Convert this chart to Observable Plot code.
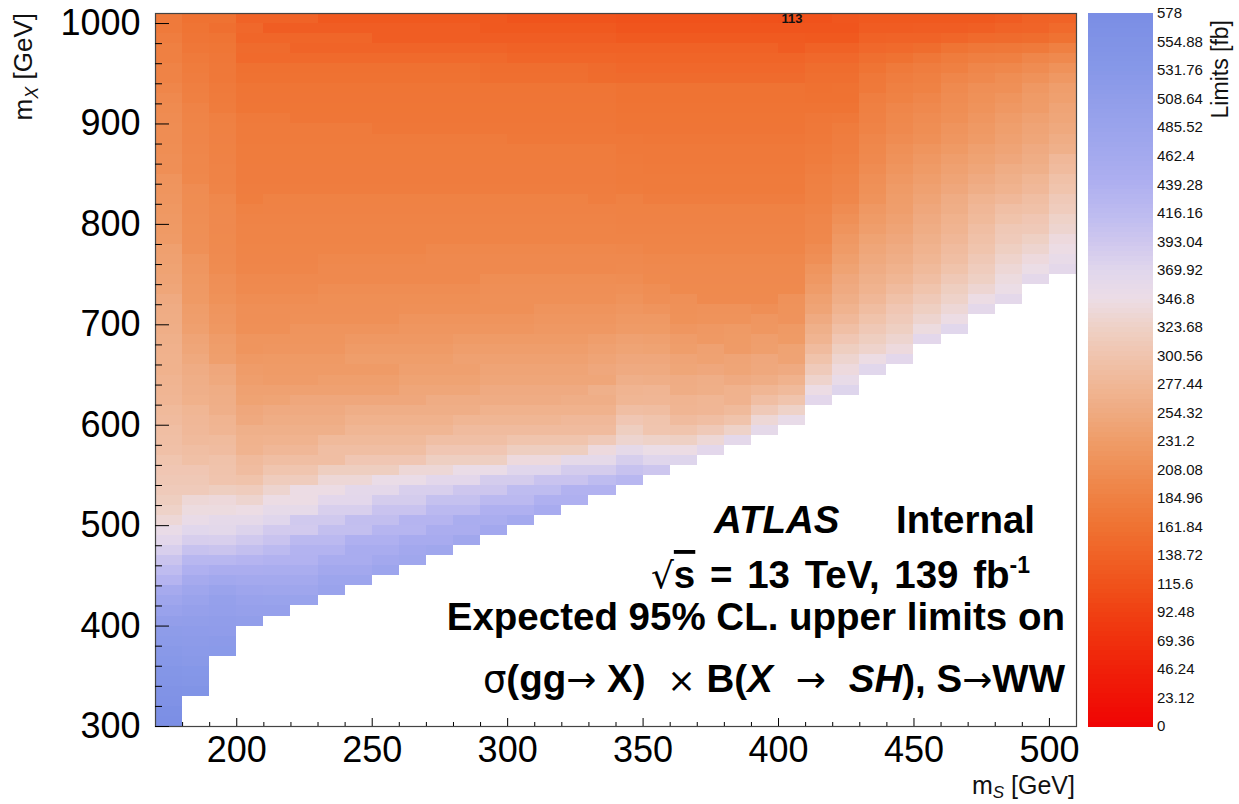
<!DOCTYPE html>
<html><head><meta charset="utf-8">
<script src="https://cdn.jsdelivr.net/npm/d3@7"></script>
<script src="https://cdn.jsdelivr.net/npm/@observablehq/plot@0.6"></script>
<style>
html,body{margin:0;padding:0;background:#fff;overflow:hidden}
#chart{width:1239px;height:804px}
</style></head><body><div id="chart"></div>
<script>
// ---- data ----
const mS = [170,180,190,200,210,220,230,240,250,260,270,280,290,300,310,320,330,340,350,360,370,380,390,400,410,420,430,440,450,460,470,480,490,500];
const mXmin = [300,330,370,400,410,420,430,440,450,460,470,480,490,500,510,520,530,540,550,560,570,580,590,600,620,630,650,660,680,690,710,720,740,750];
const mX = [1000,990,980,970,960,950,940,930,920,910,900,890,880,870,860,850,840,830,820,810,800,790,780,770,760,750,740,730,720,710,700,690,680,670,660,650,640,630,620,610,600,590,580,570,560,550,540,530,520,510,500,490,480,470,460,450,440,430,420,410,400,390,380,370,360,350,340,330,320,310,300];
// expected limits [fb], one row per mX (top to bottom), columns follow mS from 170 up to the last allowed mS
const limits = [
[175,162,162,140,140,140,125,125,125,125,125,125,125,118,118,118,118,115,115,115,115,115,114,113,115,122,125,125,125,125,125,130,138,140],
[175,165,158,148,132,132,132,132,132,132,132,132,125,125,125,125,125,120,120,120,120,120,120,120,120,120,130,130,132,132,135,140,142,150],
[180,167,165,145,145,145,145,145,132,132,132,132,132,132,132,132,132,127,127,127,127,127,127,127,125,125,138,140,140,145,150,152,155,162],
[185,170,168,152,152,142,142,142,142,142,142,142,142,138,138,138,138,138,138,138,138,138,138,130,138,138,148,150,155,165,170,172,175,185],
[185,175,170,150,150,150,150,150,150,150,150,150,150,145,145,145,145,143,143,143,143,143,143,143,148,148,158,162,170,178,183,185,195,200],
[190,178,172,160,160,160,160,160,160,160,160,160,156,156,156,156,152,148,148,148,148,148,148,148,155,155,165,175,180,185,195,198,205,215],
[190,180,172,162,162,162,162,162,162,162,162,162,158,158,158,158,153,152,152,152,152,152,152,152,158,158,172,180,185,195,200,208,215,225],
[195,183,175,166,166,166,166,166,166,166,166,166,166,166,166,166,166,163,163,163,163,163,163,163,160,162,174,185,188,202,210,212,225,235],
[200,185,176,167,167,167,167,167,167,167,167,167,167,167,167,167,167,164,164,164,164,164,164,164,162,162,182,188,195,205,213,220,230,238],
[203,190,178,168,168,168,168,168,168,168,168,168,168,168,168,168,168,165,165,165,165,165,165,165,165,165,185,195,200,208,216,225,232,245],
[205,192,185,175,175,169,169,169,169,169,169,169,169,169,169,169,169,166,166,166,166,166,166,166,170,172,187,198,205,212,222,232,240,248],
[207,193,186,176,176,176,176,176,170,170,170,170,170,170,170,170,170,167,167,167,167,167,167,167,172,178,190,200,208,218,226,236,245,252],
[207,194,187,177,177,177,177,177,177,177,177,177,177,172,172,172,172,172,170,170,170,170,170,170,174,180,195,205,212,222,230,240,248,260],
[208,195,188,178,178,178,178,178,178,178,178,178,178,178,178,178,178,174,173,173,173,173,173,173,176,182,198,212,220,228,238,245,255,265],
[210,196,189,178,178,178,178,178,178,178,178,178,178,178,178,178,178,175,174,174,174,174,174,174,178,185,200,215,225,235,242,250,260,280],
[210,197,190,179,179,179,179,179,179,179,179,179,179,179,179,179,179,176,175,175,175,175,175,175,182,188,205,220,230,240,248,260,265,285],
[218,198,190,179,179,179,179,179,179,179,179,179,179,179,179,179,179,177,176,176,176,176,176,176,185,192,210,225,235,245,255,265,275,295],
[220,205,192,180,180,180,180,180,180,180,180,180,180,180,180,180,180,178,177,177,177,177,177,177,186,194,213,230,240,250,262,270,280,300],
[222,206,198,181,188,188,188,188,188,188,188,188,188,188,188,188,182,186,180,180,180,180,180,180,188,196,216,233,245,258,272,280,290,310],
[224,207,199,188,189,189,189,189,189,189,189,189,189,189,189,189,189,188,188,188,188,188,188,188,192,205,225,235,250,262,278,292,295,315],
[226,208,200,190,190,190,190,190,190,190,190,190,190,190,190,190,190,189,189,189,189,189,189,189,195,212,230,240,255,268,282,298,305,325],
[228,209,200,191,191,191,191,191,191,191,191,191,191,191,191,191,191,190,190,190,190,190,190,190,197,218,235,245,260,272,290,308,310,330],
[230,210,201,192,192,192,192,192,192,192,192,192,192,192,192,192,192,191,191,191,191,191,191,191,198,225,242,250,265,278,295,312,322,340],
[238,212,202,193,193,193,193,193,193,193,198,198,198,198,198,198,198,196,193,193,193,193,193,193,205,230,248,256,270,285,300,320,330,345],
[240,220,203,194,194,194,198,198,198,198,200,200,200,200,200,200,200,200,198,198,198,198,198,198,210,236,252,262,275,290,308,328,340,355],
[242,222,204,195,195,195,200,200,200,200,200,200,200,200,200,200,200,202,200,199,199,199,199,199,220,242,258,268,282,298,315,335,348,362],
[245,224,210,200,200,200,200,200,200,200,200,200,208,208,208,208,208,207,201,200,200,200,200,200,225,250,265,275,290,308,322,342,362],
[248,226,212,202,202,202,207,207,207,207,207,207,210,210,210,210,210,212,208,201,201,201,201,201,232,255,270,285,300,318,332,348],
[255,228,214,207,207,207,209,209,209,209,209,209,212,212,212,212,212,216,210,212,202,202,202,215,240,262,278,295,310,326,345,363],
[258,233,220,210,210,210,210,210,210,212,212,212,212,212,218,218,218,222,218,213,215,215,210,216,245,270,288,305,320,335,362],
[260,235,222,210,210,212,212,212,212,218,218,218,218,218,222,222,222,226,226,214,216,216,222,217,255,280,298,312,330,345],
[262,238,224,212,212,218,218,218,218,222,222,222,222,222,225,225,225,230,229,222,225,228,223,228,265,292,308,320,342,368],
[265,245,232,220,220,220,220,225,225,225,225,230,230,230,230,230,235,240,238,232,226,229,235,229,272,305,318,330,365],
[267,248,234,220,222,222,222,230,230,230,230,235,235,235,235,235,240,244,242,234,240,230,236,242,285,318,328,340],
[268,252,236,226,228,228,228,234,234,234,234,240,240,240,240,240,245,250,250,245,241,245,250,243,298,330,345,365],
[268,258,250,232,230,230,230,230,230,238,238,238,245,245,245,245,250,255,254,247,250,246,251,255,312,340,368],
[272,262,252,235,232,232,236,236,236,242,242,242,248,248,248,248,248,264,262,258,262,255,260,268,328,355],
[274,264,260,240,240,240,240,240,240,248,248,248,255,255,255,255,265,272,274,260,263,268,275,282,345,372],
[276,266,262,242,244,250,250,250,250,250,258,258,258,258,258,262,262,275,276,272,275,269,290,300,365],
[282,275,264,250,255,255,255,262,262,262,262,262,268,268,268,268,268,290,288,274,276,282,310,325],
[285,278,272,253,260,260,260,268,268,268,268,275,275,275,275,280,280,305,300,285,290,298,335,355],
[290,280,274,265,265,265,265,275,275,275,275,285,285,285,285,285,285,318,302,300,310,325,360],
[292,283,284,268,270,270,282,282,282,282,292,292,292,300,300,300,310,330,325,322,335,362],
[294,290,287,270,278,278,290,290,290,290,305,305,305,318,318,318,340,360,348,345,365],
[302,293,297,283,290,290,290,305,305,305,320,320,320,340,340,360,360,383,370,372],
[305,305,299,287,302,302,318,318,318,335,335,350,350,370,370,385,385,402,395],
[308,308,301,298,315,315,335,335,350,350,365,365,385,385,400,400,415,425],
[312,312,318,315,330,345,345,362,362,380,380,395,395,415,415,435,435],
[318,335,338,330,345,345,365,365,385,385,405,405,420,420,440,440],
[325,342,342,345,358,358,380,380,400,400,420,420,440,440,455],
[335,352,360,360,370,390,390,410,410,430,430,450,450,462],
[352,368,364,375,388,388,408,408,428,428,448,448,465],
[365,382,380,390,400,420,420,440,440,455,455,470],
[380,403,398,408,418,432,432,452,452,465,472],
[398,424,425,430,435,435,452,452,465,472],
[414,440,448,448,450,450,465,465,478],
[430,458,468,463,462,462,478,478],
[458,474,485,477,474,474,485],
[473,486,498,488,487,487],
[488,497,501,497,497],
[503,505,509,505],
[515,513,512],
[520,517,521],
[528,523,524],
[532,527],
[542,537],
[546,542],
[553,550],
[557],
[568],
[572]
];
const barTicks = [0,23.12,46.24,69.36,92.48,115.6,138.72,161.84,184.96,208.08,231.2,254.32,277.44,300.56,323.68,346.8,369.92,393.04,416.16,439.28,462.4,485.52,508.64,531.76,554.88,578];
const barColors = ["#f00404","#f01206","#f02009","#f0300d","#f04012","#f0521b","#f06226","#ef7232","#ef8042","#ef8e54","#ef9c68","#efaa80","#f0b796","#f0c4ae","#eed1c6","#ecdde6","#e0d6ec","#cec7ee","#bdbbf0","#afb0f0","#a4a9ee","#9aa3ec","#919dea","#8798e8","#8093e6","#7b8de5"];
const xMajor = [200,250,300,350,400,450,500];
const xMinor = [180,190,210,220,230,240,260,270,280,290,310,320,330,340,360,370,380,390,410,420,430,440,460,470,480,490];
const yMajor = [300,400,500,600,700,800,900,1000];
const yMinor = [320,340,360,380,420,440,460,480,520,540,560,580,620,640,660,680,720,740,760,780,820,840,860,880,920,940,960,980];
const binW = 10, binH = 10;
const FONT = "'Liberation Sans', Arial, Helvetica, sans-serif";
const SYM = "'DejaVu Sans', 'Liberation Sans', sans-serif";

// ---- checks & table ----
limits.forEach((row, i) => {
  const n = mS.filter((s, j) => mX[i] >= mXmin[j]).length;
  if (row.length !== n) throw new Error(`row mX=${mX[i]} has ${row.length} values, expected ${n}`);
});
const cells = [];
limits.forEach((row, i) => row.forEach((v, j) => cells.push({s: mS[j], x: mX[i], v})));
const minCell = cells.reduce((a, b) => (b.v < a.v ? b : a));
const zMax = barTicks[barTicks.length - 1];

const plot = Plot.plot({
  width: 1239, height: 804,
  marginLeft: 155, marginRight: 163, marginTop: 13, marginBottom: 78,
  style: {fontFamily: FONT, background: "#fff", color: "#000"},
  x: {domain: [170, 510], label: null},
  y: {domain: [300, 1010], label: null},
  color: {type: "linear", domain: barTicks, range: barColors, interpolate: "rgb", clamp: true},
  marks: [
    Plot.rect(cells, {x1: "s", x2: d => d.s + binW, y1: "x", y2: d => d.x + binH, fill: "v", shapeRendering: "crispEdges"}),
    Plot.text([minCell], {x: d => d.s + binW / 2, y: d => d.x + binH / 2, text: d => String(d.v), fontSize: 13, fontWeight: "bold", fill: "#111"}),
    Plot.frame({stroke: "#444", strokeWidth: 1.2}),
    Plot.axisX(xMinor, {anchor: "bottom", tickSize: -4, tickFormat: () => ""}),
    Plot.axisX(xMajor, {anchor: "bottom", tickSize: -8, tickPadding: 18, fontSize: 36, tickFormat: d => String(d)}),
    Plot.axisY(yMinor, {anchor: "left", tickSize: -7, tickFormat: () => ""}),
    Plot.axisY(yMajor, {anchor: "left", tickSize: -14, tickPadding: 29, fontSize: 36, tickFormat: d => String(d)})
  ]
});
document.getElementById("chart").appendChild(plot);

const svg = d3.select(plot);
const colorOf = plot.scale("color");

// ---- colour bar ----
const cbX = 1088, cbW = 65, cbTop = 13, cbBot = 726;
const cbY = d3.scaleLinear().domain([0, zMax]).range([cbBot, cbTop]);
const nBands = 150;
const cb = svg.append("g");
for (let k = 0; k < nBands; k++) {
  const v0 = zMax * k / nBands, v1 = zMax * (k + 1) / nBands;
  cb.append("rect").attr("x", cbX).attr("width", cbW)
    .attr("y", cbY(v1)).attr("height", cbY(v0) - cbY(v1) + 0.5)
    .attr("fill", colorOf.apply((v0 + v1) / 2)).attr("shape-rendering", "crispEdges");
}
barTicks.forEach(v => {
  svg.append("text").attr("x", 1157).attr("y", cbY(v)).attr("dy", "0.36em").attr("text-anchor", "start")
    .attr("font-family", FONT).attr("font-size", 15).attr("fill", "#111").text(String(v));
});
svg.append("text").attr("transform", "translate(1228,20) rotate(-90)").attr("text-anchor", "end")
  .attr("font-family", FONT).attr("font-size", 23).attr("fill", "#111").text("Limits [fb]");

// ---- axis titles ----
const yt = svg.append("text").attr("transform", "translate(32,13) rotate(-90)").attr("text-anchor", "end")
  .attr("font-family", FONT).attr("font-size", 26).attr("fill", "#111");
yt.append("tspan").text("m");
yt.append("tspan").attr("font-size", 18).attr("font-style", "italic").attr("dy", 6).text("X");
yt.append("tspan").attr("dy", -6).text(" [GeV]");

const xt = svg.append("text").attr("x", 1075).attr("y", 794).attr("text-anchor", "end")
  .attr("font-family", FONT).attr("font-size", 25).attr("fill", "#111");
xt.append("tspan").text("m");
xt.append("tspan").attr("font-size", 17).attr("font-style", "italic").attr("dy", 4).text("S");
xt.append("tspan").attr("dy", -4).text(" [GeV]");

// ---- ATLAS label block ----
function line(x, y, anchor, parts, size = 38.5, extra = {}) {
  const t = svg.append("text").attr("x", x).attr("y", y).attr("text-anchor", anchor)
    .attr("font-family", FONT).attr("font-size", size).attr("fill", "#000").style("white-space", "pre");
  if (extra.wordSpacing) t.attr("word-spacing", extra.wordSpacing);
  for (const p of parts) {
    const s = t.append("tspan").text(p.t).attr("font-weight", p.b === false ? "normal" : "bold");
    if (p.i) s.attr("font-style", "italic");
    if (p.f) s.attr("font-family", p.f);
    if (p.fs) s.attr("font-size", p.fs);
    if (p.dy) s.attr("dy", p.dy);
    if (p.o) s.attr("text-decoration", "overline");
  }
  return t;
}
line(714, 533, "start", [{t: "ATLAS", i: true}]);
line(896, 533, "start", [{t: "Internal"}]);
line(1030, 588, "end", [{t: "√", b: false, f: SYM, fs: 36}, {t: "s", o: true}, {t: " = 13 TeV, 139 fb"}, {t: "-1", fs: 23, dy: -15}], 38.5, {wordSpacing: 4});
line(1065, 630, "end", [{t: "Expected 95% CL. upper limits on"}]);
line(1065, 692, "end", [
  {t: "σ", b: false, f: SYM, fs: 37}, {t: "(gg"}, {t: "→", b: false, f: SYM, fs: 36}, {t: " X)"}, {t: "  × ", b: false, f: SYM, fs: 34},
  {t: "B("}, {t: "X", i: true}, {t: "  →  ", b: false, f: SYM, fs: 36}, {t: "SH", i: true}, {t: "), S"},
  {t: "→", b: false, f: SYM, fs: 36}, {t: "WW"}
]);
</script>
</body></html>
